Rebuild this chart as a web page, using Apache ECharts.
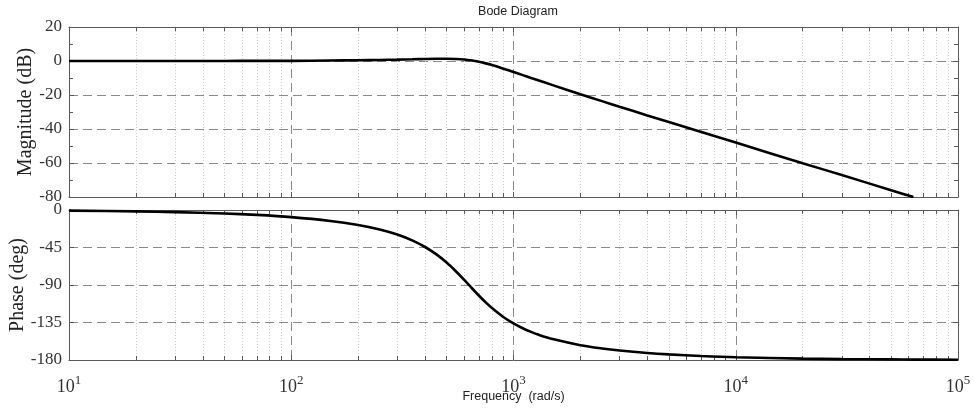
<!DOCTYPE html>
<html><head><meta charset="utf-8">
<script src="https://cdn.jsdelivr.net/npm/echarts@6/dist/echarts.min.js"></script>
<style>html,body{margin:0;padding:0;background:#fff}#c{width:974px;height:409px}</style>
</head><body><div id="c"></div>
<script>
// Frequency samples (rad/s)
const freq = [10, 20, 30, 50, 70, 100, 150, 200, 250, 300, 350, 400, 450, 500, 550, 600, 650, 700, 750, 800, 900, 1000, 1100, 1200, 1300, 1500, 2000, 2500, 3000, 4000, 5000, 7000, 10000, 20000, 30000, 50000, 63000, 100000];
// Magnitude (dB) (curve leaves the axes at -80 dB)
const magDb = [0.0, 0.0, 0.0, 0.0, 0.1, 0.1, 0.3, 0.4, 0.6, 0.8, 1.0, 1.2, 1.3, 1.3, 1.2, 0.9, 0.3, -0.5, -1.4, -2.4, -4.5, -6.5, -8.3, -10.0, -11.5, -14.2, -19.6, -23.6, -26.9, -32.0, -35.9, -41.8, -48.0, -60.1, -67.1, -76.0, -80.0, null];
// Phase (deg)
const phaseDeg = [-0.8, -1.7, -2.5, -4.2, -5.9, -8.5, -13.1, -18.0, -23.4, -29.5, -36.5, -44.4, -53.3, -63.1, -73.5, -83.9, -93.9, -102.9, -110.9, -117.7, -128.4, -136.1, -141.9, -146.3, -149.8, -154.9, -162.2, -166.1, -168.6, -171.6, -173.3, -175.2, -176.7, -178.3, -178.9, -179.3, -179.5, -179.7];
const decades = [10, 100, 1000, 10000, 100000];
const magRange = [-80, 20];
const phaseRange = [-180, 0];
const titleText = 'Bode Diagram';
const xName = 'Frequency  (rad/s)';
const magName = 'Magnitude (dB)';
const phaseName = 'Phase (deg)';

const minorFreqs = [];
for (let k = 0; k < decades.length - 1; k++) {
  for (let m = 2; m <= 9; m++) minorFreqs.push(m * decades[k]);
}

const serif = 'Liberation Serif, Times New Roman, serif';
const sans = 'Liberation Sans, Arial, sans-serif';
const axisCol = '#5a5a5a';
const gridCol = '#8a8a8a';

function xAxisDef(gridIndex, pos, showLabel) {
  return {
    type: 'log', logBase: 10, min: decades[0], max: decades[decades.length - 1],
    gridIndex: gridIndex, position: pos,
    axisLine: { show: true, onZero: false, lineStyle: { color: axisCol, width: 1 } },
    axisTick: { show: true, inside: true, length: 5, lineStyle: { color: axisCol } },
    minorTick: { show: false },
    splitLine: { show: pos === 'bottom', lineStyle: { color: gridCol, type: [9, 5], width: 1 } },
    axisLabel: {
      show: showLabel, margin: 14,
      formatter: v => '{b|10}{s|' + Math.round(Math.log10(v)) + '}',
      rich: {
        b: { fontFamily: serif, fontSize: 18, color: '#333', lineHeight: 22, verticalAlign: 'bottom' },
        s: { fontFamily: serif, fontSize: 13, color: '#333', lineHeight: 22, verticalAlign: 'top', padding: [0, 0, 8, 0] }
      }
    },
    name: showLabel ? xName : '',
    nameLocation: 'middle', nameGap: 30, nameMoveOverlap: false,
    nameTextStyle: { fontFamily: sans, fontSize: 12.5, color: '#222' }
  };
}

function yAxisDef(gridIndex, pos, range, interval, showLabel, name, nameGap, minor) {
  return {
    type: 'value', min: range[0], max: range[1], interval: interval,
    gridIndex: gridIndex, position: pos,
    axisLine: { show: true, onZero: false, lineStyle: { color: axisCol, width: 1 } },
    axisTick: { show: true, inside: true, length: 5, lineStyle: { color: axisCol } },
    minorTick: { show: minor, splitNumber: 2, length: 4, lineStyle: { color: axisCol } },
    splitLine: { show: pos === 'left', lineStyle: { color: gridCol, type: [9, 5], width: 1 } },
    axisLabel: { show: showLabel, fontFamily: serif, fontSize: 17, color: '#333', margin: 7 },
    name: name, nameLocation: 'middle', nameGap: nameGap, nameMoveOverlap: false,
    nameTextStyle: { fontFamily: serif, fontSize: 20, color: '#222' }
  };
}

function minorGridSeries(xi, yi, range, tickLen) {
  const lines = minorFreqs.map(f => ({ xAxis: f }));
  const ticks = [];
  minorFreqs.forEach(f => {
    ticks.push([{ coord: [f, range[1]] }, { coord: [f, range[1] - tickLen] }]);
    ticks.push([{ coord: [f, range[0]] }, { coord: [f, range[0] + tickLen] }]);
  });
  return [{
    type: 'line', xAxisIndex: xi, yAxisIndex: yi, data: [], z: 1, silent: true,
    markLine: { silent: true, symbol: 'none', animation: false, label: { show: false },
      lineStyle: { color: '#cdcdcd', type: [1, 2], width: 1 }, data: lines }
  }, {
    type: 'line', xAxisIndex: xi, yAxisIndex: yi, data: [], z: 3, silent: true,
    markLine: { silent: true, symbol: 'none', animation: false, label: { show: false },
      lineStyle: { color: axisCol, type: 'solid', width: 1 }, data: ticks }
  }];
}

const chart = echarts.init(document.getElementById('c'), null, { renderer: 'canvas' });
chart.setOption({
  animation: false,
  backgroundColor: '#fff',
  title: {
    text: titleText, left: 513, top: 0, textAlign: 'center',
    textStyle: { fontFamily: sans, fontSize: 12.5, fontWeight: 'normal', color: '#222' }
  },
  grid: [
    { left: 69, right: 16, top: 27, height: 170, containLabel: false, outerBoundsMode: 'none' },
    { left: 69, right: 16, top: 210, height: 150, containLabel: false, outerBoundsMode: 'none' }
  ],
  xAxis: [
    xAxisDef(0, 'bottom', false),
    xAxisDef(0, 'top', false),
    xAxisDef(1, 'bottom', true),
    xAxisDef(1, 'top', false)
  ],
  yAxis: [
    yAxisDef(0, 'left', magRange, 20, true, magName, 33, true),
    yAxisDef(0, 'right', magRange, 20, false, '', 0, true),
    yAxisDef(1, 'left', phaseRange, 45, true, phaseName, 41, false),
    yAxisDef(1, 'right', phaseRange, 45, false, '', 0, false)
  ],
  series: [
    ...minorGridSeries(0, 0, magRange, 2.4),
    ...minorGridSeries(2, 2, phaseRange, 4.8),
    {
      type: 'line', xAxisIndex: 0, yAxisIndex: 0, z: 5,
      data: freq.map((f, i) => [f, magDb[i]]).filter(p => p[1] !== null),
      showSymbol: false, smooth: 0.3, lineStyle: { color: '#000', width: 2.6 }
    },
    {
      type: 'line', xAxisIndex: 2, yAxisIndex: 2, z: 5,
      data: freq.map((f, i) => [f, phaseDeg[i]]),
      showSymbol: false, smooth: 0.3, lineStyle: { color: '#000', width: 2.6 }
    }
  ]
});
</script>
</body></html>
